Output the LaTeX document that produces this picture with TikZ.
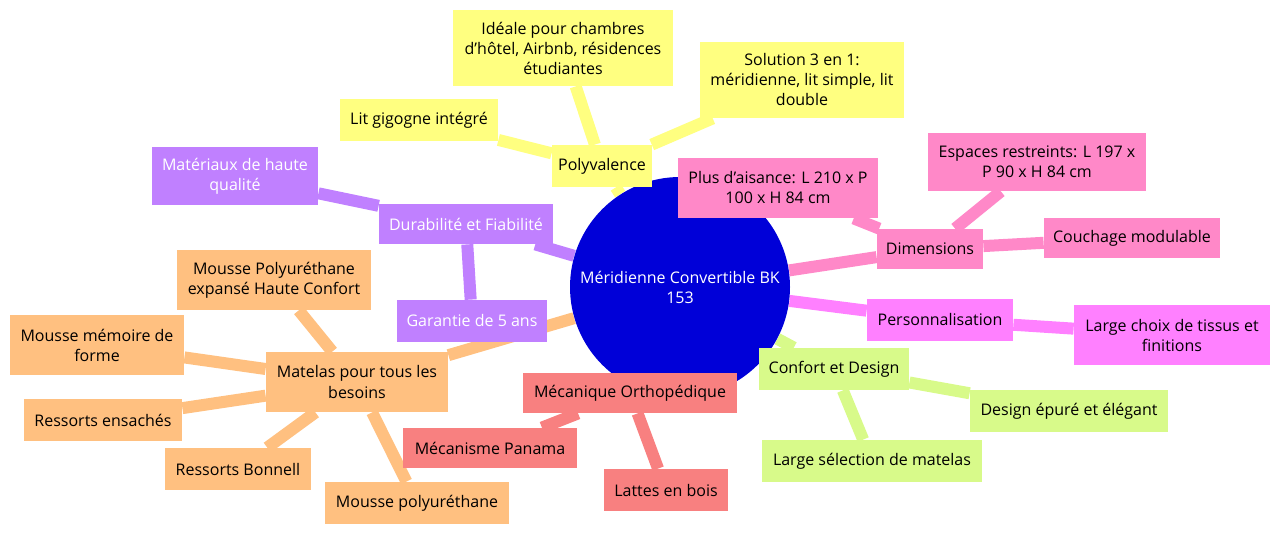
\documentclass[tikz,border=0pt]{standalone}
\usepackage{fontspec}
\setmainfont{Open Sans}
\usetikzlibrary{backgrounds}
\definecolor{cyel}{HTML}{FFFF80}
\definecolor{cpur}{HTML}{C080FF}
\definecolor{cora}{HTML}{FFC080}
\definecolor{cred}{HTML}{F88080}
\definecolor{cgrn}{HTML}{D8FA8A}
\definecolor{cmag}{HTML}{FF80FF}
\definecolor{cpnk}{HTML}{FF88C8}
\definecolor{croot}{HTML}{0000D8}
\tikzset{
  leaf/.style={rectangle, inner sep=0pt, align=center, font=\fontsize{8}{10}\selectfont},
  link/.style={line width=6pt}
}
\begin{document}
\begin{tikzpicture}[x=0.5pt,y=-0.5pt]
\useasboundingbox (0,0) rectangle (1280,534);
% root
\node[circle, fill=croot, minimum size=110pt, text=white, align=center, font=\fontsize{8}{10}\selectfont] (root) at (680,287) {Méridienne Convertible BK\\153};
% Polyvalence
\node[leaf, fill=cyel, minimum width=50pt, minimum height=21pt] (poly) at (602,166) {Polyvalence};
\node[leaf, fill=cyel, minimum width=110pt, minimum height=38pt] (ideal) at (563,48) {Idéale pour chambres\\d'hôtel, Airbnb, résidences\\étudiantes};
\node[leaf, fill=cyel, minimum width=102pt, minimum height=38pt] (sol) at (802,80) {Solution 3 en 1:\\méridienne, lit simple, lit\\double};
\node[leaf, fill=cyel, minimum width=79pt, minimum height=21pt] (gig) at (419,120) {Lit gigogne intégré};
% Durabilite
\node[leaf, fill=cpur, text=white, minimum width=87pt, minimum height=20pt] (dura) at (466,224) {Durabilité et Fiabilité};
\node[leaf, fill=cpur, text=white, minimum width=83pt, minimum height=29pt] (mat) at (235,176) {Matériaux de haute\\qualité};
\node[leaf, fill=cpur, text=white, minimum width=75pt, minimum height=21pt] (gar) at (472,321) {Garantie de 5 ans};
% Matelas
\node[leaf, fill=cora, minimum width=91pt, minimum height=30pt] (mtl) at (357,382) {Matelas pour tous les\\besoins};
\node[leaf, fill=cora, minimum width=97pt, minimum height=30pt] (mpu) at (274,280) {Mousse Polyuréthane\\expansé Haute Confort};
\node[leaf, fill=cora, minimum width=87pt, minimum height=30pt] (mmf) at (97,345) {Mousse mémoire de\\forme};
\node[leaf, fill=cora, minimum width=79pt, minimum height=21pt] (ens) at (103,420) {Ressorts ensachés};
\node[leaf, fill=cora, minimum width=73pt, minimum height=21pt] (bon) at (238,469) {Ressorts Bonnell};
\node[leaf, fill=cora, minimum width=92pt, minimum height=21pt] (mpl) at (417,503) {Mousse polyuréthane};
% Mecanique
\node[leaf, fill=cred, minimum width=107pt, minimum height=20pt] (meca) at (630,393) {Mécanique Orthopédique};
\node[leaf, fill=cred, minimum width=87pt, minimum height=20pt] (pan) at (490,448) {Mécanisme Panama};
\node[leaf, fill=cred, minimum width=62pt, minimum height=21pt] (lat) at (666,490) {Lattes en bois};
% Confort
\node[leaf, fill=cgrn, minimum width=75pt, minimum height=21pt] (conf) at (834,369) {Confort et Design};
\node[leaf, fill=cgrn, minimum width=99pt, minimum height=21pt] (dsg) at (1069,411) {Design épuré et élégant};
\node[leaf, fill=cgrn, minimum width=110pt, minimum height=21pt] (sel) at (872,461) {Large sélection de matelas};
% Personnalisation
\node[leaf, fill=cmag, minimum width=73pt, minimum height=21pt] (pers) at (940,320) {Personnalisation};
\node[leaf, fill=cmag, minimum width=98pt, minimum height=30pt] (tis) at (1172,335) {Large choix de tissus et\\finitions};
% Dimensions
\node[leaf, fill=cpnk, minimum width=53pt, minimum height=20pt] (dim) at (930,249) {Dimensions};
\node[leaf, fill=cpnk, minimum width=100pt, minimum height=30pt] (ais) at (778,188) {Plus d'aisance: L 210 x P\\100 x H 84 cm};
\node[leaf, fill=cpnk, minimum width=109pt, minimum height=29pt] (esp) at (1037,162) {Espaces restreints: L 197 x\\P 90 x H 84 cm};
\node[leaf, fill=cpnk, minimum width=88pt, minimum height=20pt] (cou) at (1132,238) {Couchage modulable};
\begin{scope}[on background layer]
\draw[link, cyel] (root) -- (poly) (poly) -- (ideal) (poly) -- (sol) (poly) -- (gig);
\draw[link, cpur] (root) -- (dura) (dura) -- (mat) (dura) -- (gar);
\draw[link, cora] (root) -- (mtl) (mtl) -- (mpu) (mtl) -- (mmf) (mtl) -- (ens) (mtl) -- (bon) (mtl) -- (mpl);
\draw[link, cred] (root) -- (meca) (meca) -- (pan) (meca) -- (lat);
\draw[link, cgrn] (root) -- (conf) (conf) -- (dsg) (conf) -- (sel);
\draw[link, cmag] (root) -- (pers) (pers) -- (tis);
\draw[link, cpnk] (root) -- (dim) (dim) -- (ais) (dim) -- (esp) (dim) -- (cou);
\end{scope}
\end{tikzpicture}
\end{document}
